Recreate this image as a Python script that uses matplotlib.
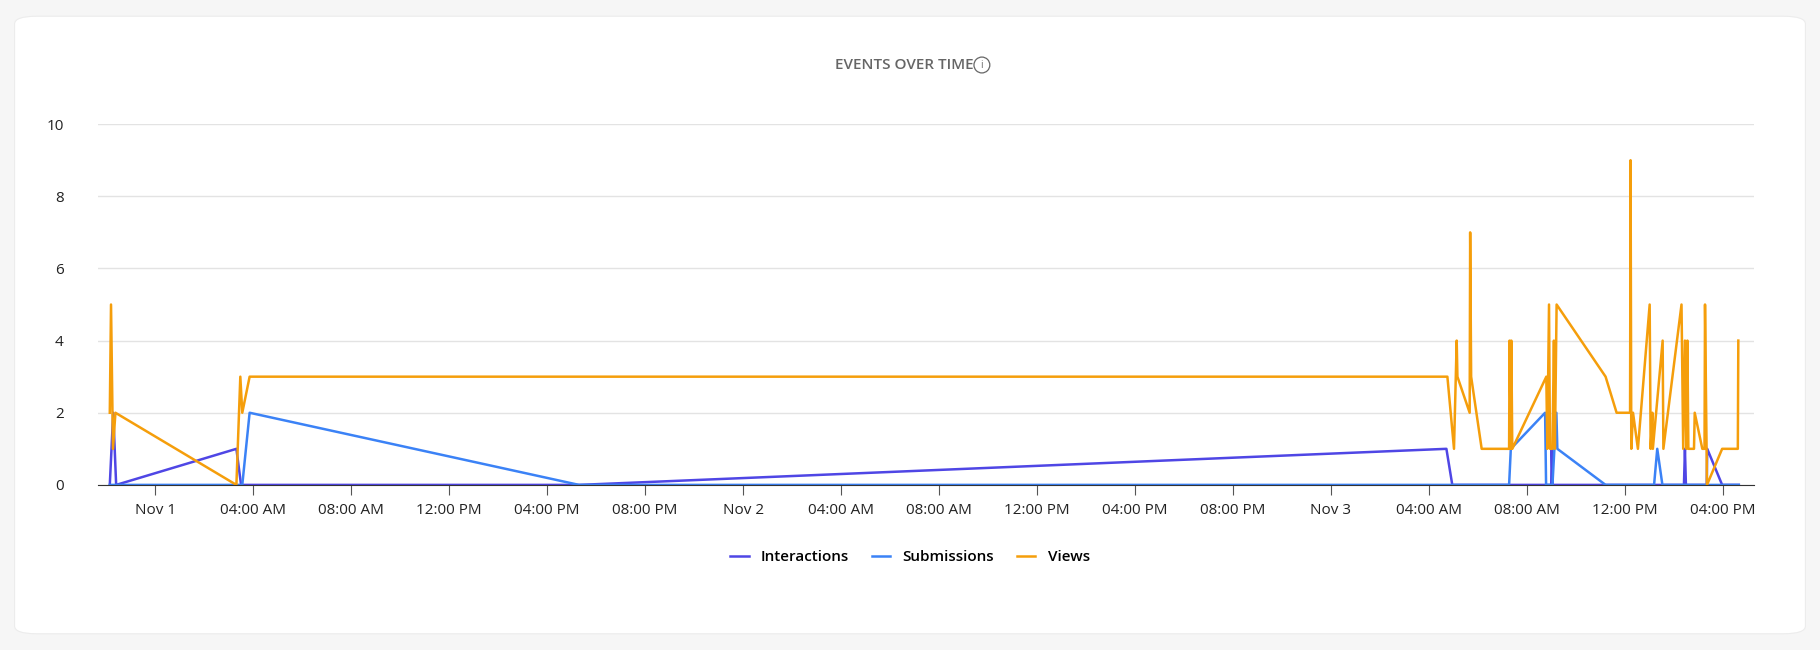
import matplotlib.pyplot as plt
import matplotlib.dates as mdates
from matplotlib.patches import FancyBboxPatch
import pandas as pd

# hours after Nov 1 00:00
views_h = [-1.86, -1.81, -1.73, -1.63, 3.31, 3.47, 3.55, 3.85, 52.76, 53.03, 53.14, 53.17,
           53.67, 53.69, 53.73, 54.16, 55.28, 55.30, 55.35, 55.37, 55.41, 56.80, 56.84,
           56.91, 56.95, 57.05, 57.11, 57.15, 57.22, 59.22, 59.67, 60.22, 60.24, 60.27,
           60.34, 60.54, 61.02, 61.06, 61.13, 61.15, 61.55, 61.58, 62.32, 62.39, 62.46,
           62.52, 62.56, 62.60, 62.83, 62.86, 63.17, 63.26, 63.28, 63.36, 63.98, 64.62, 64.64]
views_v = [2, 5, 1, 2, 0, 3, 2, 3, 3, 1, 4, 3,
           2, 7, 3, 1, 1, 4, 1, 4, 1, 3, 1,
           5, 1, 1, 4, 1, 5, 3, 2, 2, 9, 1,
           2, 1, 5, 1, 2, 1, 4, 1, 5, 1, 4,
           1, 4, 1, 1, 2, 1, 1, 5, 0, 1, 1, 4]

inter_h = [-1.86, -1.72, -1.60, 3.31, 3.50, 17.3, 52.72, 52.96, 57.00, 57.02, 57.06,
           62.42, 62.46, 62.50, 63.35, 63.37, 63.98, 64.66]
inter_v = [0, 2, 0, 1, 0, 0, 1, 0, 0, 1, 0, 0, 1, 0, 0, 1, 0, 0]

subm_h = [-1.86, 3.55, 3.85, 17.3, 55.28, 55.35, 56.75, 56.79, 57.05, 57.21, 57.25,
          59.22, 61.20, 61.33, 61.54, 64.66]
subm_v = [0, 0, 2, 0, 0, 1, 2, 0, 0, 2, 1, 0, 0, 1, 0, 0]

start = pd.Timestamp('2024-11-01 00:00')


def to_dt(hours):
    return [start + pd.Timedelta(hours=h) for h in hours]


plt.rcParams['font.family'] = ['Open Sans', 'DejaVu Sans']

fig = plt.figure(figsize=(18.2, 6.5), dpi=100)
fig.patch.set_facecolor('#f6f6f6')
bg = fig.add_axes([0, 0, 1, 1], zorder=-5)
bg.set_axis_off()
bg.add_patch(FancyBboxPatch((0.008, 0.025), 0.984, 0.95, boxstyle='round,pad=0,rounding_size=0.012',
                            transform=bg.transAxes, facecolor='white', edgecolor='#ececec', lw=0.8))

ax = fig.add_axes([0.054, 0.254, 0.91, 0.555])
ax.patch.set_alpha(0)
ax.plot(to_dt(inter_h), inter_v, color='#4f46e5', lw=1.8, label='Interactions')
ax.plot(to_dt(subm_h), subm_v, color='#3b82f6', lw=1.8, label='Submissions')
ax.plot(to_dt(views_h), views_v, color='#f59e0b', lw=1.8, label='Views')

ax.set_xlim(start + pd.Timedelta(hours=-2.33), start + pd.Timedelta(hours=65.3))
ax.set_ylim(0, 10)
ax.set_yticks(range(0, 11, 2))
ax.xaxis.set_major_locator(mdates.HourLocator(byhour=range(0, 24, 4)))


def fmt(x, pos):
    d = mdates.num2date(x)
    if d.hour == 0:
        return d.strftime('%b ') + str(d.day)
    return d.strftime('%I:%M %p')


ax.xaxis.set_major_formatter(plt.FuncFormatter(fmt))
ax.grid(axis='y', color='#e3e3e3', lw=1)
ax.set_axisbelow(True)
for s in ['top', 'right', 'left']:
    ax.spines[s].set_visible(False)
ax.spines['bottom'].set_color('#333333')
ax.tick_params(axis='y', length=0, labelsize=11, colors='#222222', pad=25)
ax.tick_params(axis='x', length=7, color='#555555', labelsize=11, colors='#222222', pad=6)

fig.text(0.497, 0.9, 'EVENTS OVER TIME', ha='center', va='center', fontsize=11,
         color='#666666', fontweight='semibold')
fig.text(0.5395, 0.9, 'i', ha='center', va='center', fontsize=7, color='#666666',
         bbox=dict(boxstyle='circle,pad=0.25', fc='none', ec='#666666', lw=0.9))
fig.legend(loc='center', bbox_to_anchor=(0.5, 0.143), ncol=3, frameon=False,
           handlelength=1.2, columnspacing=1.5, prop={'weight': 'semibold', 'size': 11})

fig.savefig('out.png', facecolor=fig.get_facecolor())
